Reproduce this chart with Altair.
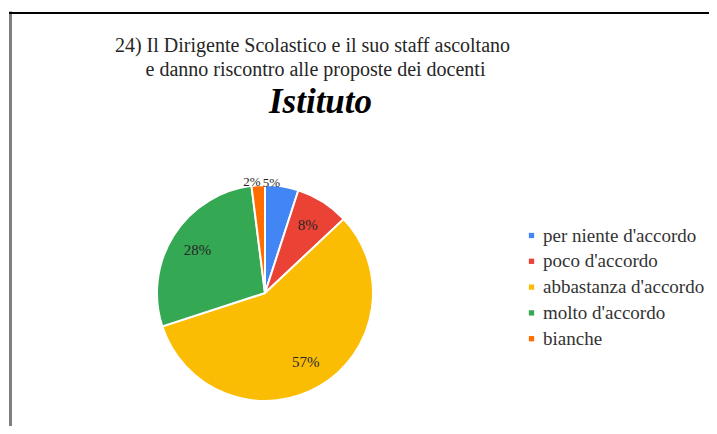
import altair as alt
import pandas as pd

categories = ["per niente d'accordo", "poco d'accordo", "abbastanza d'accordo", "molto d'accordo", "bianche"]
values = [5, 8, 57, 28, 2]
colors = ["#4285F4", "#EA4335", "#FBBC04", "#34A853", "#FF6D01"]
title_lines = ["24) Il Dirigente Scolastico e il suo staff ascoltano",
               "e danno riscontro alle proposte dei docenti"]
subtitle = "Istituto"

df = pd.DataFrame({
    "cat": categories,
    "value": values,
    "idx": list(range(len(categories))),
    "label": [f"{v}%" for v in values],
})

SERIF = "Liberation Serif"
W, H = 701, 418
CX, CY, R = 257, 285, 108

arc = alt.Chart(df).mark_arc(outerRadius=R, stroke="white", strokeWidth=2).encode(
    theta=alt.Theta("value:Q", stack=True, scale=alt.Scale(domain=[0, 100])),
    order=alt.Order("idx:Q", sort="ascending"),
    x=alt.value(CX),
    y=alt.value(CY),
    color=alt.Color(
        "cat:N",
        scale=alt.Scale(domain=categories, range=colors),
        sort=categories,
        legend=alt.Legend(
            title=None,
            orient="none",
            legendX=514,
            legendY=218,
            symbolType="square",
            symbolSize=28,
            symbolStrokeWidth=0,
            labelFont=SERIF,
            labelFontSize=19,
            labelColor="#333333",
            labelLimit=400,
            rowPadding=5.8,
            labelOffset=2,
        ),
    ),
)

lab_base = alt.Chart(df).transform_window(
    cum="sum(value)", sort=[alt.SortField("idx", order="ascending")]
).transform_calculate(
    mid="datum.cum - datum.value / 2"
)


def label_layer(test, radius, size, dx=0):
    return lab_base.transform_filter(test).mark_text(
        font=SERIF, fontSize=size, color="#262626", baseline="middle", dx=dx
    ).encode(
        theta=alt.Theta("mid:Q", stack=None, scale=alt.Scale(domain=[0, 100])),
        x=alt.value(CX),
        y=alt.value(CY),
        radius=alt.value(radius),
        text="label:N",
    )


lab_in = label_layer("datum.value >= 6", 80, 15)
lab_out1 = label_layer("datum.value < 6 && datum.idx == 0", 111, 13, -11)
lab_out2 = label_layer("datum.value < 6 && datum.idx != 0", 111, 13, -6)

one = pd.DataFrame({"t1": [title_lines[0]], "t2": [title_lines[1]], "t3": [subtitle]})
t1 = alt.Chart(one).mark_text(font=SERIF, fontSize=20, color="#262626", align="center", baseline="alphabetic").encode(
    text="t1:N", x=alt.value(304.5), y=alt.value(44))
t2 = alt.Chart(one).mark_text(font=SERIF, fontSize=20, color="#262626", align="center", baseline="alphabetic").encode(
    text="t2:N", x=alt.value(307.5), y=alt.value(68))
t3 = alt.Chart(one).mark_text(font=SERIF, fontSize=35, fontStyle="italic", fontWeight="bold", color="#000000",
                              align="center", baseline="alphabetic").encode(
    text="t3:N", x=alt.value(312.5), y=alt.value(105))

border_left = alt.Chart(one).mark_rule(color="#7f7f7f", strokeWidth=3).encode(
    x=alt.value(2.5), y=alt.value(3.5), y2=alt.value(H))
border_top = alt.Chart(one).mark_rule(color="#000000", strokeWidth=2).encode(
    x=alt.value(1), x2=alt.value(W), y=alt.value(5))

chart = alt.layer(border_left, border_top, arc, lab_in, lab_out1, lab_out2, t1, t2, t3).properties(
    width=W, height=H, padding=0, autosize="none", background="white"
).configure_view(stroke=None)

chart.save("out.html", embed_options={"renderer": "svg", "actions": False})
